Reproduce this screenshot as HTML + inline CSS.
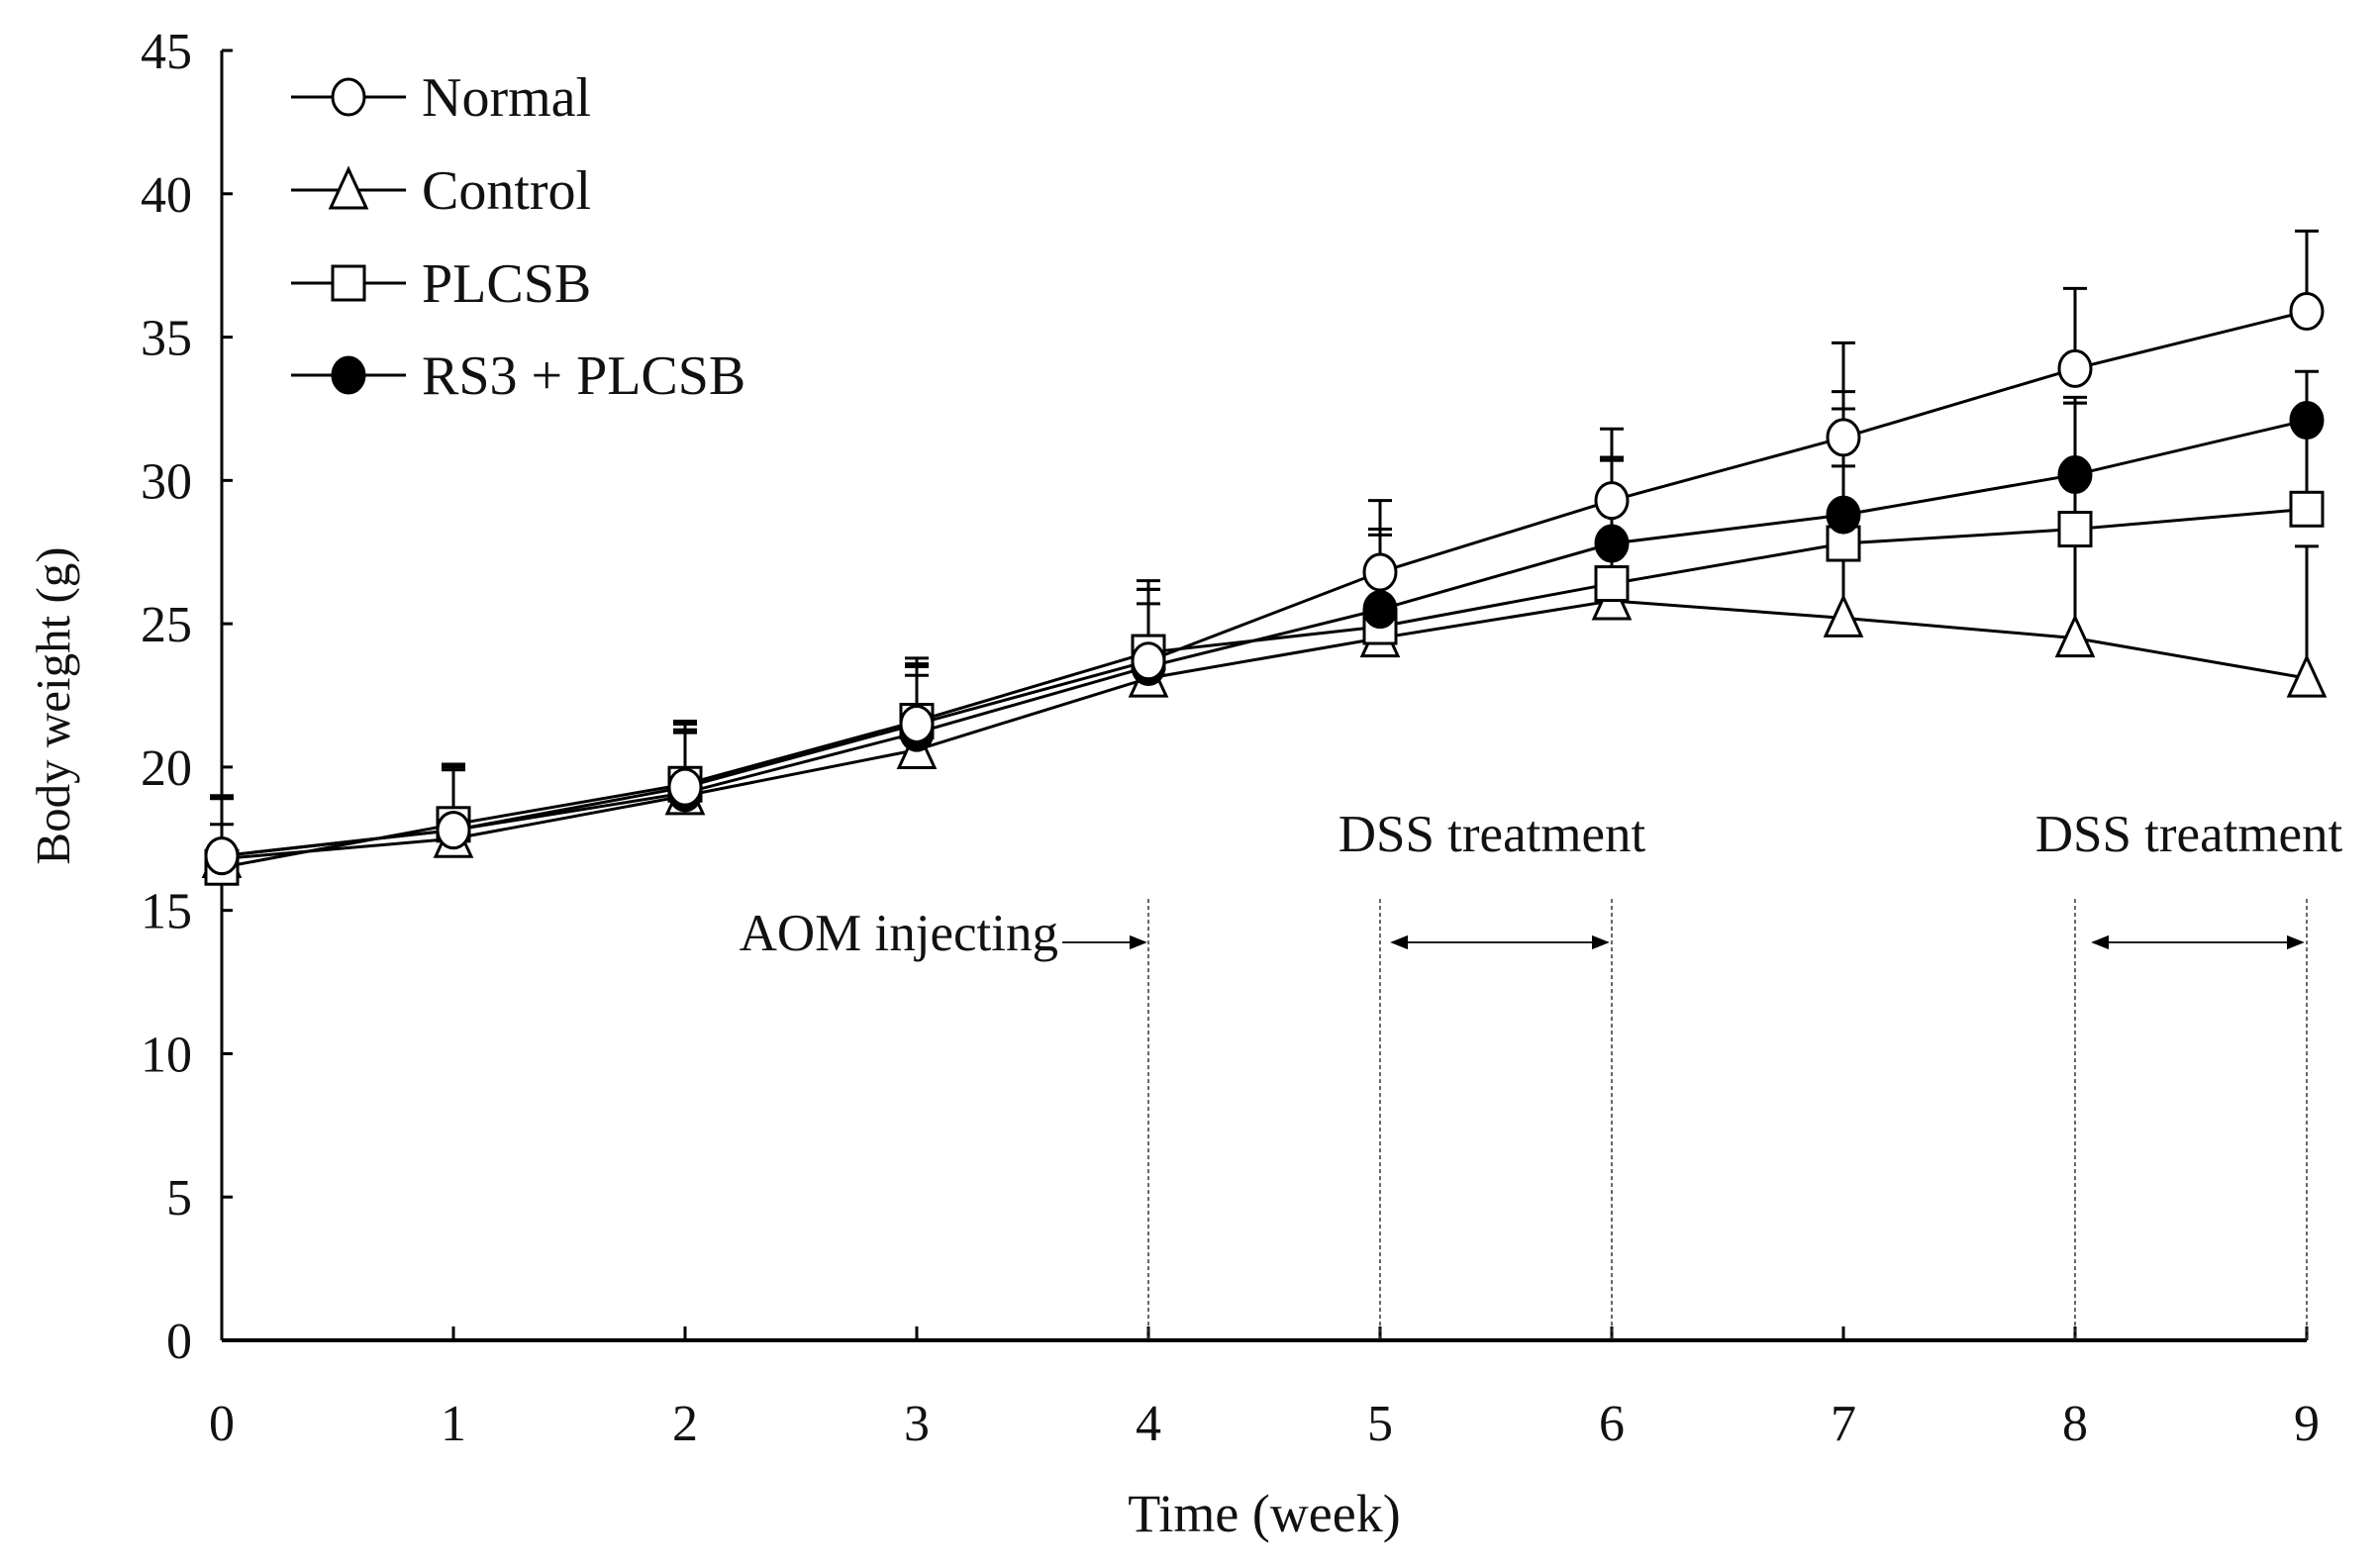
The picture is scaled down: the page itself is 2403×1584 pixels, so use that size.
<!DOCTYPE html>
<html><head><meta charset="utf-8">
<style>
html,body{margin:0;padding:0;background:#fff;}
svg{display:block;font-family:"Liberation Serif",serif;}
</style></head>
<body>
<svg id="chart" width="2403" height="1584" viewBox="0 0 2403 1584" xmlns="http://www.w3.org/2000/svg">
<rect width="2403" height="1584" fill="#fff"/>
<g id="axes"></g>
<g id="annot"></g>
<g id="series"></g>
<g id="legend"></g>
<text x="0" y="0" transform="translate(70,713) rotate(-90)" text-anchor="middle" font-size="49" fill="#111">Body weight (g)</text>
<text x="1277" y="1547" text-anchor="middle" font-size="54" fill="#111">Time (week)</text>
</svg>
<script>
const weeks = [0,1,2,3,4,5,6,7,8,9];
const yTicks = [0,5,10,15,20,25,30,35,40,45];
const normalVals  = [16.9,17.8,19.3,21.5,23.7,26.8,29.3,31.5,33.9,35.9];
const normalSD    = [2.1,2.3,2.3,2.3,2.8,2.5,2.5,3.3,2.8,2.8];
const controlVals = [16.8,17.5,19.0,20.6,23.1,24.5,25.8,25.2,24.5,23.1];
const controlSD   = [1.2,2.4,2.2,2.6,2.6,3.6,5.0,5.3,8.2,4.6];
const plcsbVals   = [16.5,18.0,19.4,21.6,24.0,24.9,26.4,27.8,28.3,29.0];
const plcsbSD     = [2.4,2.0,2.1,2.0,2.2,3.4,4.3,4.7,4.4,3.2];
const rs3Vals     = [16.9,17.8,19.1,21.2,23.5,25.5,27.8,28.8,30.2,32.1];
const rs3SD       = [2.1,2.3,2.2,2.3,2.7,2.8,3.0,4.3,2.7,1.7];
const seriesNames = ["Normal","Control","PLCSB","RS3 + PLCSB"];

const NS="http://www.w3.org/2000/svg";
const X0=224, X1=2330, Y0=1354, Y45=51;
const xs = w => X0 + (X1-X0)*w/9;
const ys = v => Y0 - (Y0-Y45)*v/45;
function mk(tag, attrs, parent){const e=document.createElementNS(NS,tag);for(const k in attrs)e.setAttribute(k,attrs[k]);parent.appendChild(e);return e;}

const axes=document.getElementById('axes');
let a=mk('line',{x1:X0,y1:Y45,x2:X0,y2:Y0,stroke:'#000','stroke-width':3},axes);


a=mk('line',{x1:X0,y1:Y0,x2:X1,y2:Y0,stroke:'#000','stroke-width':4},axes);


yTicks.forEach(v=>{
  const t=mk('line',{x1:X0,y1:ys(v),x2:X0+11,y2:ys(v),stroke:'#000','stroke-width':3},axes);
  
  
  const l=mk('text',{x:194,y:ys(v)+18,'text-anchor':'end','font-size':52,fill:'#111'},axes);
  l.textContent=v;
  
  
});
weeks.forEach(w=>{
  const t=mk('line',{x1:xs(w),y1:Y0,x2:xs(w),y2:Y0-14,stroke:'#000','stroke-width':3},axes);
  
  
  const l=mk('text',{x:xs(w),y:1455,'text-anchor':'middle','font-size':52,fill:'#111'},axes);
  l.textContent=w;
  
  
});

const an=document.getElementById('annot');
[4,5,6,8,9].forEach(w=>{
  const d=mk('line',{x1:xs(w),y1:ys(15.4),x2:xs(w),y2:Y0,stroke:'#333','stroke-width':1.5,'stroke-dasharray':'4,3'},an);
  
  
});
mk('defs',{},an).innerHTML='<marker id="ah" markerWidth="10" markerHeight="8" refX="9" refY="4" orient="auto-start-reverse"><path d="M0,0 L10,4 L0,8 z" fill="#000"/></marker>';
function arrow(x1,x2,y,both,name){
  const l=mk('line',{x1:x1,y1:y,x2:x2,y2:y,stroke:'#000','stroke-width':1.8,'marker-end':'url(#ah)'},an);
  if(both) l.setAttribute('marker-start','url(#ah)');
  
  
}
arrow(1073,xs(4)-3,952,false,'aom-arrow');
arrow(xs(5)+12,xs(6)-4,952,true,'dss-arrow-1');
arrow(xs(8)+18,xs(9)-4,952,true,'dss-arrow-2');
let t=mk('text',{x:1069,y:960,'text-anchor':'end','font-size':53,fill:'#111'},an);
t.textContent='AOM injecting';


t=mk('text',{x:1507,y:860,'text-anchor':'middle','font-size':53,fill:'#111'},an);
t.textContent='DSS treatment';


t=mk('text',{x:2211,y:860,'text-anchor':'middle','font-size':53,fill:'#111'},an);
t.textContent='DSS treatment';



function marker(kind,cx,cy,parent){
  let m;
  if(kind==='circle') m=mk('ellipse',{cx:cx,cy:cy,rx:16,ry:18,fill:'#fff',stroke:'#000','stroke-width':3},parent);
  else if(kind==='dot') m=mk('ellipse',{cx:cx,cy:cy,rx:16,ry:18,fill:'#000',stroke:'#000','stroke-width':3},parent);
  else if(kind==='square') m=mk('rect',{x:cx-16,y:cy-17,width:32,height:34,fill:'#fff',stroke:'#000','stroke-width':3},parent);
  else m=mk('polygon',{points:`${cx},${cy-21} ${cx-18},${cy+18} ${cx+18},${cy+18}`,fill:'#fff',stroke:'#000','stroke-width':3},parent);
  return m;
}
const ser=document.getElementById('series');
const defs=[
 {name:'normal',vals:normalVals,sd:normalSD,kind:'circle'},
 {name:'control',vals:controlVals,sd:controlSD,kind:'triangle'},
 {name:'plcsb',vals:plcsbVals,sd:plcsbSD,kind:'square'},
 {name:'rs3-plcsb',vals:rs3Vals,sd:rs3SD,kind:'dot'}
];
defs.forEach(s=>{
  const g=mk('g',{},ser);
  
  
  s.vals.forEach((v,i)=>{
    const x=xs(weeks[i]), top=ys(v+s.sd[i]);
    const e=mk('path',{d:`M${x},${ys(v)} V${top} M${x-12},${top} H${x+12}`,stroke:'#000','stroke-width':3,fill:'none'},g);
    
    
  });
});
defs.forEach(s=>{
  const pl=mk('polyline',{points:s.vals.map((v,i)=>xs(weeks[i])+','+ys(v)).join(' '),fill:'none',stroke:'#000','stroke-width':3},ser);
  
  
});
[defs[1],defs[2],defs[3],defs[0]].forEach(s=>{
  const g=mk('g',{},ser);
  
  
  s.vals.forEach((v,i)=>{
    const m=marker(s.kind,xs(weeks[i]),ys(v),g);
    
    
  });
});

const lg=document.getElementById('legend');
const kinds=['circle','triangle','square','dot'];
const ly=[98,192,286,379];
seriesNames.forEach((n,i)=>{
  const g=mk('g',{},lg);
  
  
  mk('line',{x1:294,y1:ly[i],x2:410,y2:ly[i],stroke:'#000','stroke-width':3},g);
  marker(kinds[i],352,ly[i],g);
  const tx=mk('text',{x:426,y:ly[i]+19,'font-size':56,fill:'#111'},g);
  tx.textContent=n;
});
</script>
</body></html>
